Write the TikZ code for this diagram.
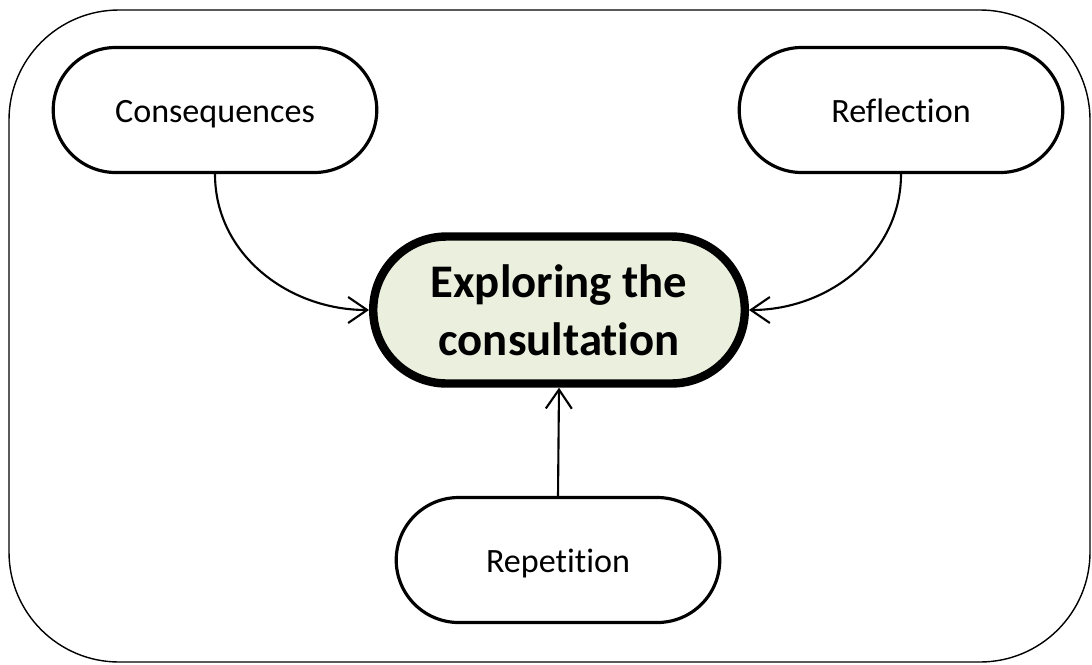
\documentclass[tikz,border=0pt]{standalone}
\usepackage{fontspec}
\setmainfont[Ligatures=NoCommon]{Carlito}
\usetikzlibrary{positioning, shapes.misc, arrows.meta}
\definecolor{hubfill}{RGB}{235,239,222}

\begin{document}
\begin{tikzpicture}[
    pill/.style={rounded rectangle, draw, line width=0.9pt, minimum width=3.47cm,
      minimum height=1.25cm, text height=1.5ex, text depth=0pt,
      font=\fontsize{9.7}{12}\selectfont},
    hub/.style={rounded rectangle, draw, line width=2.4pt, fill=hubfill,
      minimum width=3.95cm, minimum height=1.47cm, align=center,
      font=\fontsize{13.3}{16.5}\selectfont\bfseries},
    link/.style={line width=0.6pt, -{Straight Barb[length=1.9mm,width=2.6mm]}}
  ]
  \useasboundingbox (0,0) rectangle (10.92,-6.64);

  % outer frame
  \draw[line width=0.4pt, rounded corners=1.1cm] (0.09,-0.10) rectangle (10.90,-6.62);

  % nodes
  \node[hub] (explore) at (5.59,-3.10) {Exploring the\\consultation};
  \node[pill] (conseq) at (2.15,-1.10) {Consequences};
  \node[pill] (reflect) at (9.01,-1.10) {Reflection};
  \node[pill] (repeat) at (5.58,-5.60) {Repetition};

  % links
  \draw[link] (conseq.south) to[out=-90, in=180] (explore.west);
  \draw[link] (reflect.south) to[out=-90, in=0] (explore.east);
  \draw[link] (repeat.north) -- (explore.south);
\end{tikzpicture}
\end{document}
